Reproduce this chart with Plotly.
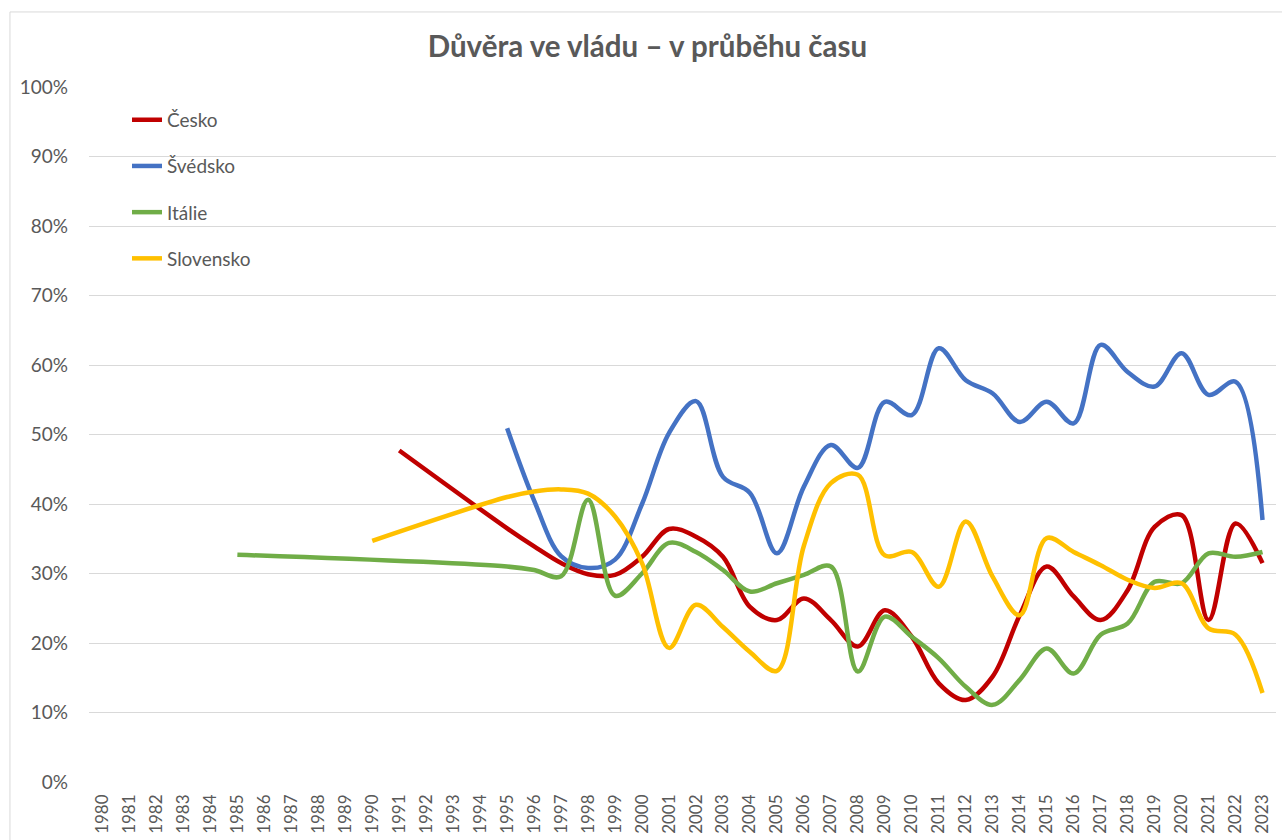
import plotly.graph_objects as go

# years on the category axis, 1980..2023
years = [str(y) for y in range(1980, 2024)]

# values, in %, keyed by year (gaps are simply missing years)
cesko_vals = {1991: 47.7, 1995: 36.5, 1996: 33.9, 1997: 31.5, 1998: 29.9, 1999: 29.8,
              2000: 32.4, 2001: 36.4, 2002: 35.3, 2003: 32.4, 2004: 25.2, 2005: 23.3,
              2006: 26.4, 2007: 23.3, 2008: 19.5, 2009: 24.7, 2010: 20.9, 2011: 14.2,
              2012: 11.8, 2013: 15.2, 2014: 24.0, 2015: 31.0, 2016: 26.7, 2017: 23.3,
              2018: 27.6, 2019: 36.7, 2020: 38.4, 2021: 23.3, 2022: 37.2, 2023: 31.5}
svedsko_vals = {1995: 50.9, 1996: 40.5, 1997: 32.5, 1998: 30.8, 1999: 32.0, 2000: 40.0,
                2001: 50.2, 2002: 54.8, 2003: 43.9, 2004: 41.6, 2005: 32.9, 2006: 42.5,
                2007: 48.5, 2008: 45.2, 2009: 54.7, 2010: 52.8, 2011: 62.4, 2012: 57.8,
                2013: 55.9, 2014: 51.8, 2015: 54.7, 2016: 51.6, 2017: 62.9, 2018: 59.0,
                2019: 56.9, 2020: 61.7, 2021: 55.7, 2022: 57.6, 2023: 37.7}
italie_vals = {1985: 32.7, 1995: 31.0, 1996: 30.5, 1997: 29.6, 1998: 40.6, 1999: 26.8,
               2000: 30.0, 2001: 34.4, 2002: 33.1, 2003: 30.5, 2004: 27.4, 2005: 28.6,
               2006: 29.8, 2007: 31.0, 2008: 15.9, 2009: 23.8, 2010: 20.9, 2011: 17.8,
               2012: 13.7, 2013: 11.1, 2014: 14.7, 2015: 19.2, 2016: 15.6, 2017: 21.2,
               2018: 22.8, 2019: 28.8, 2020: 28.6, 2021: 32.9, 2022: 32.4, 2023: 33.1}
slovensko_vals = {1990: 34.7, 1995: 41.0, 1996: 41.8, 1997: 42.1, 1998: 41.5, 1999: 38.2,
                  2000: 31.5, 2001: 19.3, 2002: 25.5, 2003: 22.3, 2004: 18.7, 2005: 16.0,
                  2006: 34.0, 2007: 43.0, 2008: 44.2, 2009: 32.6, 2010: 33.1, 2011: 28.1,
                  2012: 37.5, 2013: 29.5, 2014: 24.0, 2015: 35.1, 2016: 33.1, 2017: 31.2,
                  2018: 29.1, 2019: 27.9, 2020: 28.6, 2021: 22.1, 2022: 21.2, 2023: 12.8}

series = [
    ('Česko', cesko_vals, '#C00000'),
    ('Švédsko', svedsko_vals, '#4472C4'),
    ('Itálie', italie_vals, '#70AD47'),
    ('Slovensko', slovensko_vals, '#FFC000'),
]

font_family = 'Lato, "Open Sans", sans-serif'
grey = '#595959'

fig = go.Figure()
for name, vals, colour in series:
    fig.add_trace(go.Scatter(
        x=years,
        y=[vals.get(int(y)) for y in years],
        mode='lines',
        name=name,
        legendgroup=name,
        connectgaps=True,
        line=dict(color=colour, width=4.5, shape='spline', smoothing=1.0),
    ))

fig.update_layout(
    width=1282, height=840,
    margin=dict(l=89, r=6, t=87, b=58),
    paper_bgcolor='white', plot_bgcolor='white',
    font=dict(family=font_family, color=grey, size=18),
    title=dict(text='<b>Důvěra ve vládu – v průběhu času</b>', x=0.505, xanchor='center',
               y=0.944, yanchor='middle', font=dict(size=29.5, color=grey, family=font_family)),
    showlegend=True,
    legend=dict(x=0.032, y=0.98, xanchor='left', yanchor='top', bgcolor='rgba(0,0,0,0)',
                tracegroupgap=18.5, font=dict(size=19, color=grey)),
    xaxis=dict(type='category', categoryorder='array', categoryarray=years,
               range=[-0.5, len(years) - 0.5],
               tickangle=-90, tickfont=dict(size=17, color=grey), showgrid=False,
               showline=False, ticks='', automargin=False, ticklabelstandoff=8),
    yaxis=dict(range=[0, 100], dtick=10, ticksuffix='%', showgrid=True,
               gridcolor='#D9D9D9', gridwidth=1, zeroline=False, showline=False,
               tickfont=dict(size=19, color=grey), ticks='', automargin=False,
               ticklabelstandoff=20),
    shapes=[dict(type='rect', xref='paper', yref='paper', x0=-0.0666, x1=1.02,
                 y0=-0.2, y1=1.108, line=dict(color='#D9D9D9', width=1), layer='below')],
)

# browser default body margin shifts everything by 8px, so drop it
fig.write_html('out.html', config={'displayModeBar': False},
               post_script="document.body.style.margin='0';")
